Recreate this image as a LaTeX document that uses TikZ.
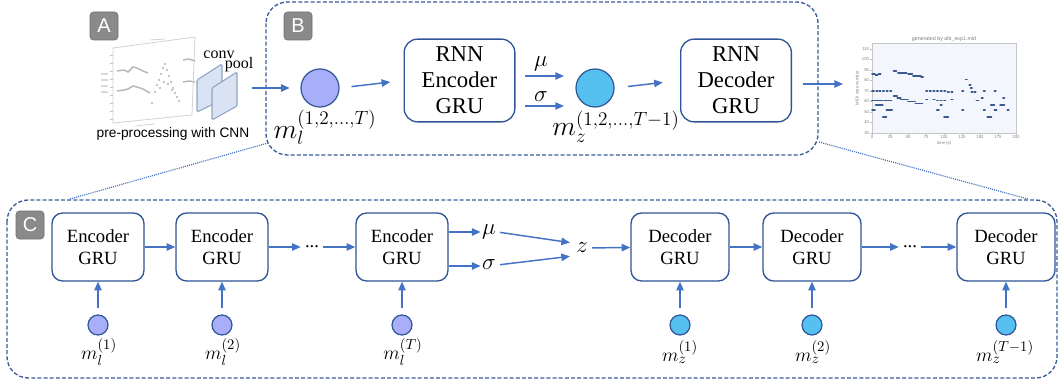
\documentclass[tikz,border=0pt]{standalone}
\usepackage{fontspec}
\setmainfont{Liberation Serif}
\setsansfont{Liberation Sans}
\usetikzlibrary{arrows.meta,calc}
\definecolor{arrowblue}{HTML}{4472C4}
\definecolor{boxblue}{HTML}{2F5597}
\definecolor{dashblue}{HTML}{3A5C9A}
\definecolor{lavfill}{HTML}{A9AEF8}
\definecolor{cyanfill}{HTML}{56C1F1}
\definecolor{badgefill}{HTML}{8A8A8A}
\definecolor{badgeline}{HTML}{6E6E6E}
\definecolor{convfill}{HTML}{DAE3F3}
\definecolor{convline}{HTML}{8FA3C4}
\definecolor{plotbg}{HTML}{F3F7FD}
\definecolor{notecol}{HTML}{3B5A8C}
\begin{document}
\begin{tikzpicture}[x=0.75pt,y=-0.75pt,
  arr/.style={draw=arrowblue,line width=1.1pt,-{Triangle[length=6.5pt,width=5.5pt]}},
  bbox/.style={draw=boxblue,line width=1pt,rounded corners=10pt,fill=white,
    minimum width=83pt,minimum height=62pt,align=center,inner sep=0pt,
    font=\fontsize{17}{19.5}\selectfont},
  cbox/.style={draw=boxblue,line width=1pt,rounded corners=8pt,fill=white,
    minimum width=69pt,minimum height=51pt,align=center,inner sep=0pt,
    font=\fontsize{14}{16.5}\selectfont},
  dbox/.style={cbox,minimum width=73.5pt},
  lcirc/.style={circle,draw=boxblue,line width=0.9pt,fill=lavfill,inner sep=0pt,minimum size=28.5pt},
  zcirc/.style={lcirc,fill=cyanfill},
  slcirc/.style={lcirc,minimum size=15pt},
  szcirc/.style={zcirc,minimum size=15pt},
  dashbox/.style={draw=dashblue,line width=1pt,dash pattern=on 3pt off 1.6pt,rounded corners=16pt},
  dotline/.style={draw=arrowblue,line width=0.9pt,dash pattern=on 0.8pt off 0.8pt},
  badge/.style={draw=badgeline,fill=badgefill,rounded corners=2.5pt,minimum size=21pt,inner sep=0pt,
    text=white,font=\sffamily\fontsize{15}{15}\selectfont},
  biglbl/.style={inner sep=0pt,font=\fontsize{20}{22}\selectfont},
  smlbl/.style={inner sep=0pt,font=\fontsize{15}{17}\selectfont},
  greek/.style={inner sep=1pt,font=\fontsize{16}{18}\selectfont},
  tick/.style={inner sep=0.5pt,text=gray,font=\sffamily\fontsize{3.2}{3.5}\selectfont},
  note/.style={draw=notecol,line width=1.3pt,line cap=round}
]
\useasboundingbox (0,0) rectangle (1060,385);

% ---------- dashed group boxes ----------
\draw[dashbox] (266,2) rectangle (818,155);
\draw[dashbox] (7,200) rectangle (1057,378);
\coordinate (bl) at (268,143);
\coordinate (cl) at (70,199);
\coordinate (br) at (819,142);
\coordinate (cr) at (1028,199);
\draw[dotline] (bl) -- (cl);
\draw[dotline] (br) -- (cr);

% ---------- badges ----------
\node[badge] (A) at (104,26) {A};
\node[badge] (B) at (298,26) {B};
\node[badge] (C) at (30,225) {C};

% ---------- panel A: input plot ----------
\draw[draw=gray!35,fill=white,line width=0.6pt] (113,48) -- (195,37) -- (192,115) -- (113,123) -- cycle;
\foreach \yy in {55,63,71,79,87,95,103,111,119} \draw[gray!45,line width=0.4pt] (110,\yy) -- (113,\yy);
\foreach \yy in {74,80,86,92} \draw[gray!30,line width=1.2pt] (101,\yy) -- (108,\yy);
\draw[gray!55,line width=1.1pt] (117,71) -- (124,70) -- (128,72) -- (133,67) -- (137,68) -- (143,71) -- (148,73);
\draw[gray!55,line width=1.1pt] (117,91) -- (124,90) -- (128,89) -- (133,86) -- (137,87) -- (143,89) -- (150,93);
\draw[gray!55,line width=1.1pt] (183,60) -- (189,59) -- (195,61);
\draw[gray!55,line width=1.1pt] (183,82) -- (189,81) -- (195,82);
\foreach \px/\py in {152/103, 155/92, 157/85, 159/80, 161/74, 163/68, 165/64, 167/70, 169/76, 171/82, 173/88, 175/93, 177/97, 179/101, 160/88, 164/82, 168/84, 172/90}
  \fill[gray!60] (\px,\py) circle (0.9pt);
\draw[gray!40,line width=0.5pt] (150,40) -- (165,39);
\draw[gray!40,line width=0.5pt] (135,126) -- (155,124);

% conv / pool layers
\draw[draw=convline,fill=convfill,line width=0.8pt,rounded corners=1pt] (197,80) -- (222,64) -- (222,100) -- (197,112) -- cycle;
\draw[draw=convline,fill=convfill,line width=0.8pt,rounded corners=1pt] (212,88) -- (237,72) -- (237,106) -- (212,120) -- cycle;
\node[inner sep=0pt,font=\fontsize{12}{12}\selectfont] (conv) at (219,55) {conv};
\node[inner sep=0pt,font=\fontsize{12}{12}\selectfont] (pool) at (239,65) {pool};
\node[inner sep=0pt,font=\sffamily\fontsize{10.3}{12}\selectfont] (pre) at (173,134) {pre-processing with CNN};

% ---------- panel B ----------
\coordinate (pin) at (252,88);
\node[lcirc] (ml) at (320,88) {};
\node[biglbl] (mlL) at (325,127) {$m_l^{(1,2,\ldots,T)}$};
\node[bbox] (encB) at (459.5,80.5) {RNN\\Encoder\\GRU};
\coordinate (mu1) at (525,76);
\coordinate (mu2) at (564,76);
\coordinate (sg1) at (525,106);
\coordinate (sg2) at (564,106);
\node[greek] (muB) at (541,64) {$\mu$};
\node[greek] (sgB) at (541,97) {$\sigma$};
\node[zcirc] (mz) at (595,88) {};
\node[biglbl] (mzL) at (616,127) {$m_z^{(1,2,\ldots,T-1)}$};
\node[bbox] (decB) at (736,80.5) {RNN\\Decoder\\GRU};
\coordinate (out1) at (803,84);
\coordinate (out2) at (843,84);

\draw[arr,shorten >=8pt] (pin) -- (ml.west);
\draw[arr,shorten <=9pt,shorten >=10pt] (ml.east) -- (encB.west);
\draw[arr] (mu1) -- (mu2);
\draw[arr] (sg1) -- (sg2);
\draw[arr,shorten <=10pt,shorten >=13pt] (mz.east) -- (decB.west);
\draw[arr] (out1) -- (out2);

% ---------- output plot ----------
\draw[draw=gray!45,fill=plotbg,line width=0.6pt] (872,43) rectangle (1016,133);
\node[tick,font=\sffamily\fontsize{4}{4}\selectfont] (ptitle) at (944,39) {generated by alb\_esp1.mid};
\foreach \v in {30,40,...,110} {
  \draw[gray!50,line width=0.3pt] (870,{133-1.05*(\v-30)}) -- (872,{133-1.05*(\v-30)});
  \node[tick,anchor=east] at (870,{133-1.05*(\v-30)}) {\v};
}
\foreach \t in {0,25,...,200} {
  \draw[gray!50,line width=0.3pt] ({872+0.72*\t},133) -- ({872+0.72*\t},135);
  \node[tick,anchor=north] at ({872+0.72*\t},135) {\t};
}
\node[tick] (xl) at (944,143) {time (s)};
\node[tick,rotate=90] (yl) at (857,88) {MIDI note number};
\foreach \a/\b/\v in {0/4/86,5/8/85,9/12/86,30/34/89,36/48/87,50/56/86,57/68/84,68/71/83,
  0/3/70,6/8/70,10/12/70,15/17/70,20/22/70,25/27/70,75/77/70,80/82/70,85/87/70,90/92/70,95/97/70,100/102/70,105/107/69,110/112/69,125/127/70,138/140/69,142/144/69,155/157/70,170/172/70,
  0/5/61,5/10/61,10/15/61,17/20/61,22/27/61,30/35/65,35/40/63,40/50/62,50/60/60,60/70/58,75/77/62,85/87/62,90/92/61,95/97/61,100/102/61,110/112/62,145/148/61,152/154/63,182/184/63,
  5/10/57,10/15/57,95/97/57,165/170/57,178/184/57,
  0/4/52,20/28/52,90/93/52,125/127/52,155/157/52,170/173/52,188/190/52,
  15/20/45,100/106/45,160/166/45,
  130/132/81,135/137/76,137/139/73}
  \draw[note] ({872+0.72*\a},{133-1.05*(\v-30)}) -- ({872+0.72*\b},{133-1.05*(\v-30)});

% ---------- panel C: encoder chain ----------
\node[cbox] (e1) at (98,247) {Encoder\\GRU};
\node[cbox] (e2) at (222,247) {Encoder\\GRU};
\node[cbox] (e3) at (402,247) {Encoder\\GRU};
\node[inner sep=0pt,font=\fontsize{14}{14}\selectfont] (edots) at (312,247) {...};
\node[greek] (muC) at (489,232) {$\mu$};
\node[greek] (sgC) at (489,265) {$\sigma$};
\node[greek] (z) at (582,248) {$z$};

\draw[arr] (e1) -- (e2);
\draw[arr,shorten >=3pt] (e2) -- (edots);
\draw[arr,shorten <=3pt] (edots) -- (e3);
\draw[arr] ($(e3.east)+(0,-15)$) -- (muC.west |- 0,232);
\draw[arr] ($(e3.east)+(0,19)$) -- (sgC.west |- 0,266);
\draw[arr,shorten <=2pt,shorten >=2pt] (muC.east) -- ($(z.west)+(-2,-5)$);
\draw[arr,shorten <=2pt,shorten >=2pt] (sgC.east) -- ($(z.west)+(-2,8)$);

\node[slcirc] (c1) at (98,325) {};
\node[slcirc] (c2) at (222,325) {};
\node[slcirc] (c3) at (402,325) {};
\node[smlbl] (c1L) at (99,352) {$m_l^{(1)}$};
\node[smlbl] (c2L) at (223,352) {$m_l^{(2)}$};
\node[smlbl] (c3L) at (403,352) {$m_l^{(T)}$};
\foreach \n in {1,2,3} \draw[arr,shorten <=5pt] (c\n.north) -- (e\n.south);

% ---------- panel C: decoder chain ----------
\node[dbox] (d1) at (680,247) {Decoder\\GRU};
\node[dbox] (d2) at (812,247) {Decoder\\GRU};
\node[dbox] (d3) at (1006,247) {Decoder\\GRU};
\node[inner sep=0pt,font=\fontsize{14}{14}\selectfont] (ddots) at (910,247) {...};
\draw[arr,shorten <=2pt] (z) -- (d1);
\draw[arr] (d1) -- (d2);
\draw[arr,shorten >=3pt] (d2) -- (ddots);
\draw[arr,shorten <=3pt] (ddots) -- (d3);

\node[szcirc] (z1) at (680,325) {};
\node[szcirc] (z2) at (812,325) {};
\node[szcirc] (z3) at (1006,325) {};
\node[smlbl] (z1L) at (680,352) {$m_z^{(1)}$};
\node[smlbl] (z2L) at (813,352) {$m_z^{(2)}$};
\node[smlbl] (z3L) at (1005,352) {$m_z^{(T-1)}$};
\foreach \n in {1,2,3} \draw[arr,shorten <=5pt] (z\n.north) -- (d\n.south);
\end{tikzpicture}
\end{document}
